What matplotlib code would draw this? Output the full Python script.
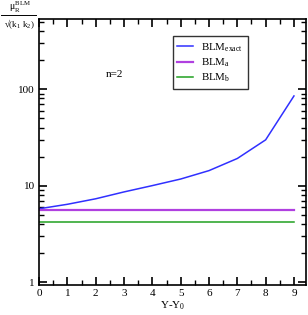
import numpy as np
import matplotlib.pyplot as plt
from matplotlib.lines import Line2D
from matplotlib.ticker import NullFormatter, MultipleLocator, FixedLocator

plt.rcParams['font.family'] = ['Liberation Serif', 'DejaVu Serif']
plt.rcParams['mathtext.fontset'] = 'custom'
plt.rcParams['mathtext.rm'] = 'Liberation Serif'
plt.rcParams['mathtext.it'] = 'Liberation Serif'

# data
y_vals = [0, 1, 2, 3, 4, 5, 6, 7, 8, 9]
blm_exact = [5.75, 6.4, 7.3, 8.6, 10.0, 11.7, 14.3, 19.1, 29.8, 85.0]
blm_a = [5.65] * 10
blm_b = [4.2] * 10

fig = plt.figure(figsize=(3.08, 3.15), dpi=100)
ax = fig.add_axes([0.127, 0.095, 0.866, 0.845])

ax.plot(y_vals, blm_exact, color='#3030ff', lw=1.1, label=r'BLM$_{\rm exact}$')
ax.plot(y_vals, blm_a, color='#b040e0', lw=1.6, label=r'BLM$_{\rm a}$')
ax.plot(y_vals, blm_b, color='#20a020', lw=1.1, label=r'BLM$_{\rm b}$')

ax.set_yscale('log')
ax.set_xlim(0, 9.42)
ax.set_ylim(0.93, 535)
ax.xaxis.set_major_locator(MultipleLocator(1))
ax.xaxis.set_minor_locator(MultipleLocator(0.5))
ax.yaxis.set_major_locator(FixedLocator([1, 10, 100]))
minor_y = [m * 10.0 ** e for e in range(-1, 3) for m in range(2, 10)]
ax.yaxis.set_minor_locator(FixedLocator(minor_y))
ax.yaxis.set_minor_formatter(NullFormatter())
ax.set_yticklabels(['1', '10', '100'])

ax.tick_params(which='both', direction='in', top=True, right=True,
               labelsize=8, pad=3, color='black')
ax.tick_params(which='major', length=6, width=1.2)
ax.tick_params(which='minor', length=3.5, width=1.0)
for s in ax.spines.values():
    s.set_linewidth(1.2)

ax.set_xlabel(r'Y-Y$_0$', fontsize=8, labelpad=1)

ax.text(0.25, 0.79, 'n=2', transform=ax.transAxes, fontsize=8, va='center')

leg = ax.legend(loc='upper left', bbox_to_anchor=(0.48, 0.955), fontsize=7.8,
                frameon=True, fancybox=False, edgecolor='black',
                handlelength=1.4, borderpad=0.45, labelspacing=0.25,
                handletextpad=0.8)
leg.get_frame().set_linewidth(1.0)

# y label as fraction at top left
fig.text(0.065, 0.953, r'$\mu_{\rm R}^{\rm BLM}$', ha='center', va='bottom', fontsize=7)
fig.add_artist(Line2D([0.003, 0.118], [0.951, 0.951], color='black', lw=0.7))
fig.text(0.063, 0.945, '\u221a(k$_1$ k$_2$)', ha='center', va='top', fontsize=6.5)

fig.savefig('out.png', dpi=100)
